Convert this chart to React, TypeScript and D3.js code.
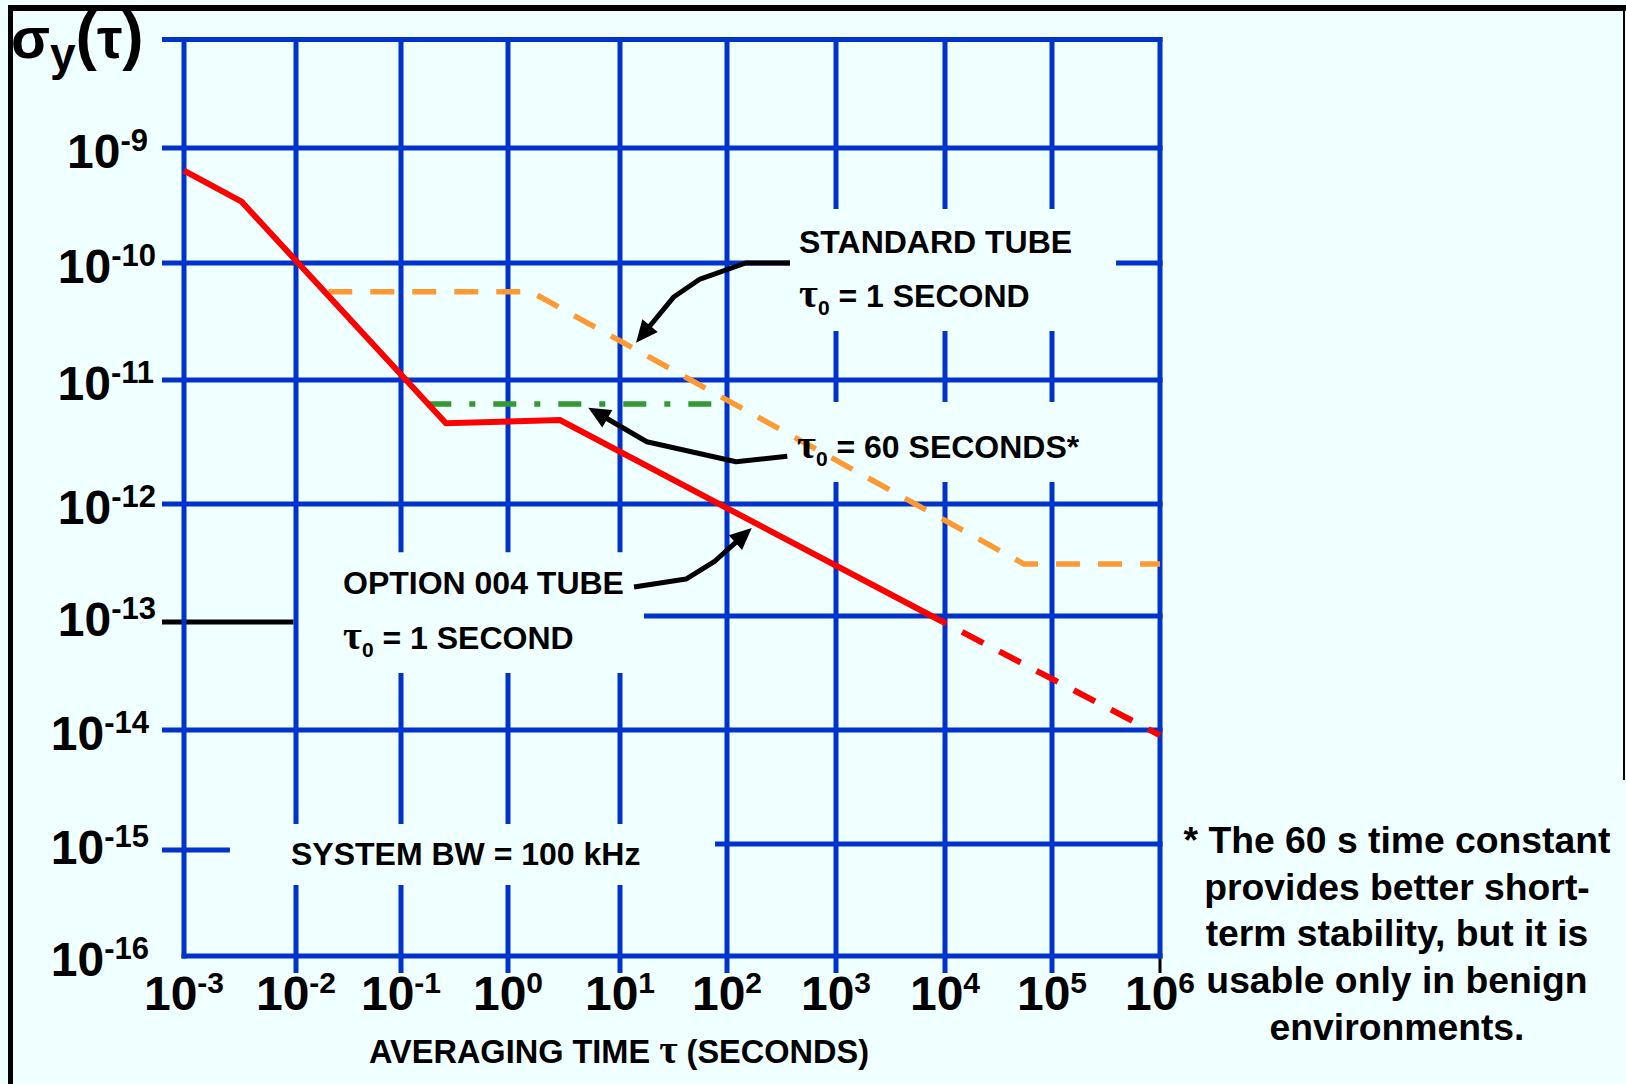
import React from "react";
import * as d3 from "d3";

// ---------------- data ----------------
const tauExponents = [-3, -2, -1, 0, 1, 2, 3, 4, 5, 6];
const sigmaExponents = [-8, -9, -10, -11, -12, -13, -14, -15, -16];
const xTickLabels = ["-3", "-2", "-1", "0", "1", "2", "3", "4", "5", "6"];
const yTickExponents = [-9, -10, -11, -12, -13, -14, -15, -16];
const yTickLabels = ["-9", "-10", "-11", "-12", "-13", "-14", "-15", "-16"];

// OPTION 004 tube, tau0 = 1 s (solid, then extrapolated dashed)
const option004Tau = [1e-3, 3.27e-3, 0.263, 2.91, 9.5e3];
const option004Sigma = [6.35e-10, 3.41e-10, 4.48e-12, 4.75e-12, 8.9e-14];
const option004ExtrapTau = [9.5e3, 1e6];
const option004ExtrapSigma = [8.9e-14, 9.0e-15];
// Standard tube, tau0 = 1 s
const standardTau = [0.0203, 1.6, 5.47e4, 1e6];
const standardSigma = [5.69e-11, 5.69e-11, 2.91e-13, 2.91e-13];
// tau0 = 60 s
const tau60Tau = [0.18, 79];
const tau60Sigma = [6.4e-12, 6.4e-12];

// leader lines, [log10 tau, log10 sigma], last point = arrow tip
const leaderStandard = [[2.578, -10], [2.172, -10], [1.748, -10.137], [1.505, -10.288], [1.15, -10.681]];
const leader60 = [[2.553, -11.615], [2.083, -11.659], [1.25, -11.498], [0.717, -11.223]];
const leaderOption = [[1.131, -12.741], [1.617, -12.67], [1.888, -12.509], [2.227, -12.214]];

// gaps in grid lines around the labels (log10 sigma for vertical lines)
const gapOption = [-12.43, -13.5];
const gapBW = [-14.825, -15.366];
const gapStd = [-9.53, -10.581];
const gap60 = [-11.177, -11.823];

const footnoteLines = [
  "* The 60 s time constant",
  "provides better short-",
  "term stability, but it is",
  "usable only in benign",
  "environments.",
];

// ---------------- layout ----------------
const W = 1626;
const H = 1084;
const X_POS = [184, 296, 401, 508, 620, 727, 836, 945, 1052, 1160];
const Y_POS = [39.5, 148, 263, 380, 504, 616, 730, 844, 956];
const Y_LABEL_END = [148, 156, 154, 156, 156, 149, 149, 149];
const BLUE = "#0033cc";
const RED = "#ff0000";
const ORANGE = "#ff9933";
const GREEN = "#339933";
const SANS = "'Liberation Sans', Arial, Helvetica, sans-serif";
const SERIF = "'Liberation Serif', 'Times New Roman', serif";
const GW = 5;
const ANN = 32;

export default function App() {
  const x = d3.scaleLog().domain(tauExponents.map((e) => Math.pow(10, e))).range(X_POS);
  const y = d3.scaleLog().domain(sigmaExponents.map((e) => Math.pow(10, e))).range(Y_POS);
  const xe = (e: number) => x(Math.pow(10, e));
  const ye = (e: number) => y(Math.pow(10, e));

  const x0 = x(1e-3);
  const x1 = x(1e6);
  const yTop = y(1e-8);
  const yBot = y(1e-16);
  const TICK_L = 22;
  const TICK_D = 17;

  const line = d3
    .line<[number, number]>()
    .x((d) => x(d[0]))
    .y((d) => y(d[1]));
  const zip = (a: number[], b: number[]) => a.map((v, i) => [v, b[i]] as [number, number]);

  // vertical grid lines
  const vGaps: Record<string, number[][]> = {
    "-2": [gapBW],
    "-1": [gapOption, gapBW],
    "0": [gapOption, gapBW],
    "1": [gapOption, gapBW],
    "3": [gapStd, gap60],
    "4": [gapStd, gap60],
    "5": [gapStd, gap60],
  };
  const vLines: React.ReactNode[] = [];
  tauExponents.forEach((e) => {
    const xp = xe(e);
    const top = yTop - GW / 2;
    const bottom = e === -3 || e === 6 ? yBot + GW / 2 : yBot + TICK_D;
    const gaps = (vGaps[String(e)] || []).map((g) => [ye(g[0]), ye(g[1])]);
    let cur = top;
    const segs: number[][] = [];
    gaps.forEach((g) => {
      segs.push([cur, g[0]]);
      cur = g[1];
    });
    segs.push([cur, bottom]);
    segs.forEach((s, i) =>
      vLines.push(<line key={`v${e}_${i}`} x1={xp} x2={xp} y1={s[0]} y2={s[1]} stroke={BLUE} strokeWidth={GW} />)
    );
    if (e === 6) {
      vLines.push(<line key="v6tick" x1={xp} x2={xp} y1={yBot + GW / 2} y2={yBot + TICK_D} stroke="#000" strokeWidth={3} />);
    }
  });

  // horizontal grid lines
  const hLines: React.ReactNode[] = [];
  sigmaExponents.forEach((e) => {
    const yp = ye(e);
    let segs: number[][];
    if (e === -16) segs = [[x0 - GW / 2, x1 + GW / 2]];
    else if (e === -10) segs = [[x0 - TICK_L, xe(2.578)], [xe(5.593), x1 + GW / 2]];
    else if (e === -13) segs = [[xe(1.224), x1 + GW / 2]];
    else if (e === -15) segs = [[xe(1.888), x1 + GW / 2]];
    else segs = [[x0 - TICK_L, x1 + GW / 2]];
    segs.forEach((s, i) =>
      hLines.push(<line key={`h${e}_${i}`} x1={s[0]} x2={s[1]} y1={yp} y2={yp} stroke={BLUE} strokeWidth={GW} />)
    );
  });
  // odd short segments at left
  hLines.push(
    <line key="h13b" x1={x0 - TICK_L} x2={x(1e-2) - GW / 2} y1={ye(-13) + 6} y2={ye(-13) + 6} stroke="#000" strokeWidth={GW} />
  );
  hLines.push(
    <line key="h15l" x1={x0 - TICK_L} x2={xe(-2.59)} y1={ye(-15) + 6} y2={ye(-15) + 6} stroke={BLUE} strokeWidth={GW} />
  );

  // leader with arrow
  const leader = (pts: number[][], key: string) => {
    const p = pts.map((d) => [xe(d[0]), ye(d[1])]);
    const tip = p[p.length - 1];
    const prev = p[p.length - 2];
    const dx = tip[0] - prev[0];
    const dy = tip[1] - prev[1];
    const len = Math.hypot(dx, dy);
    const ux = dx / len;
    const uy = dy / len;
    const L = 22;
    const hw = 10;
    const base = [tip[0] - ux * L, tip[1] - uy * L];
    const linePts = [...p.slice(0, -1), [base[0] + ux * 2, base[1] + uy * 2]];
    const path = d3.line()(linePts as [number, number][]) || "";
    const tri = [
      tip,
      [base[0] - uy * hw, base[1] + ux * hw],
      [base[0] + uy * hw, base[1] - ux * hw],
    ];
    return (
      <g key={key}>
        <path d={path} fill="none" stroke="#000" strokeWidth={5} strokeLinejoin="round" />
        <polygon points={tri.map((t) => t.join(",")).join(" ")} fill="#000" />
      </g>
    );
  };

  const tau0 = (xp: number, yp: number, rest: string, key: string) => (
    <text key={key} x={xp} y={yp} fontFamily={SANS} fontWeight="bold" fontSize={ANN} fill="#000">
      <tspan fontFamily={SERIF} fontSize={41}>τ</tspan>
      <tspan fontSize={21} dy={8}>0</tspan>
      <tspan dy={-8}>{rest}</tspan>
    </text>
  );

  return (
    <svg
      width={W}
      height={H}
      style={{ position: "absolute", left: 0, top: 0, display: "block" }}
      xmlns="http://www.w3.org/2000/svg"
    >
      <rect x={0} y={0} width={W} height={H} fill="#f0ffff" />
      {/* frame */}
      <line x1={8} x2={W} y1={8} y2={8} stroke="#000" strokeWidth={6} />
      <line x1={10.5} x2={10.5} y1={5} y2={H} stroke="#000" strokeWidth={5} />
      <line x1={1624} x2={1624} y1={5} y2={780} stroke="#000" strokeWidth={2} />

      {hLines}
      {vLines}

      {/* curves */}
      <path
        d={line(zip(standardTau, standardSigma)) || ""}
        fill="none"
        stroke={ORANGE}
        strokeWidth={5.5}
        strokeDasharray="24 18"
      />
      <path
        d={line(zip(tau60Tau, tau60Sigma)) || ""}
        fill="none"
        stroke={GREEN}
        strokeWidth={5.5}
        strokeDasharray="23 18 6 18"
      />
      <path
        d={line(zip(option004Tau, option004Sigma)) || ""}
        fill="none"
        stroke={RED}
        strokeWidth={6}
        strokeLinejoin="miter"
      />
      <path
        d={line(zip(option004ExtrapTau, option004ExtrapSigma)) || ""}
        fill="none"
        stroke={RED}
        strokeWidth={6}
        strokeDasharray="24 18"
        strokeDashoffset={-22}
      />

      {leader(leaderStandard, "ls")}
      {leader(leader60, "l60")}
      {leader(leaderOption, "lo")}

      {/* annotations */}
      <text x={799} y={253} fontFamily={SANS} fontWeight="bold" fontSize={ANN} fill="#000">
        STANDARD TUBE
      </text>
      {tau0(799, 307, " = 1 SECOND", "t1")}
      {tau0(797, 458, " = 60 SECONDS*", "t2")}
      <text x={343} y={594} fontFamily={SANS} fontWeight="bold" fontSize={ANN} fill="#000">
        OPTION 004 TUBE
      </text>
      {tau0(343, 649, " = 1 SECOND", "t3")}
      <text x={291} y={865} fontFamily={SANS} fontWeight="bold" fontSize={ANN} fill="#000">
        SYSTEM BW = 100 kHz
      </text>

      {/* y tick labels */}
      {yTickExponents.map((e, i) => (
        <text
          key={`yl${e}`}
          x={Y_LABEL_END[i]}
          y={ye(e) + 20}
          textAnchor="end"
          fontFamily={SANS}
          fontWeight="bold"
          fontSize={48}
          fill="#000"
        >
          10
          <tspan dy={-17} fontSize={31}>
            {yTickLabels[i]}
          </tspan>
        </text>
      ))}

      {/* x tick labels */}
      {tauExponents.map((e, i) => (
        <text
          key={`xl${e}`}
          x={xe(e)}
          y={1010}
          textAnchor="middle"
          fontFamily={SANS}
          fontWeight="bold"
          fontSize={48}
          fill="#000"
        >
          10
          <tspan dy={-17} fontSize={30}>
            {xTickLabels[i]}
          </tspan>
        </text>
      ))}

      {/* axis titles */}
      <text x={11} y={58} fontFamily={SANS} fontWeight="bold" fontSize={57} fill="#000">
        σ
        <tspan dy={12} fontSize={46}>y</tspan>
        <tspan dy={-12} fontSize={64}>(</tspan>
        <tspan fontSize={57}>τ</tspan>
        <tspan fontSize={64}>)</tspan>
      </text>
      <text x={619} y={1063} textAnchor="middle" fontFamily={SANS} fontWeight="bold" fontSize={32.5} fill="#000">
        AVERAGING TIME <tspan fontFamily={SERIF} fontSize={40}>τ</tspan> (SECONDS)
      </text>

      {/* footnote */}
      {footnoteLines.map((t, i) => (
        <text
          key={`fn${i}`}
          x={1397}
          y={853 + i * 46.7}
          textAnchor="middle"
          fontFamily={SANS}
          fontWeight="bold"
          fontSize={37.3}
          fill="#000"
        >
          {t}
        </text>
      ))}
    </svg>
  );
}
